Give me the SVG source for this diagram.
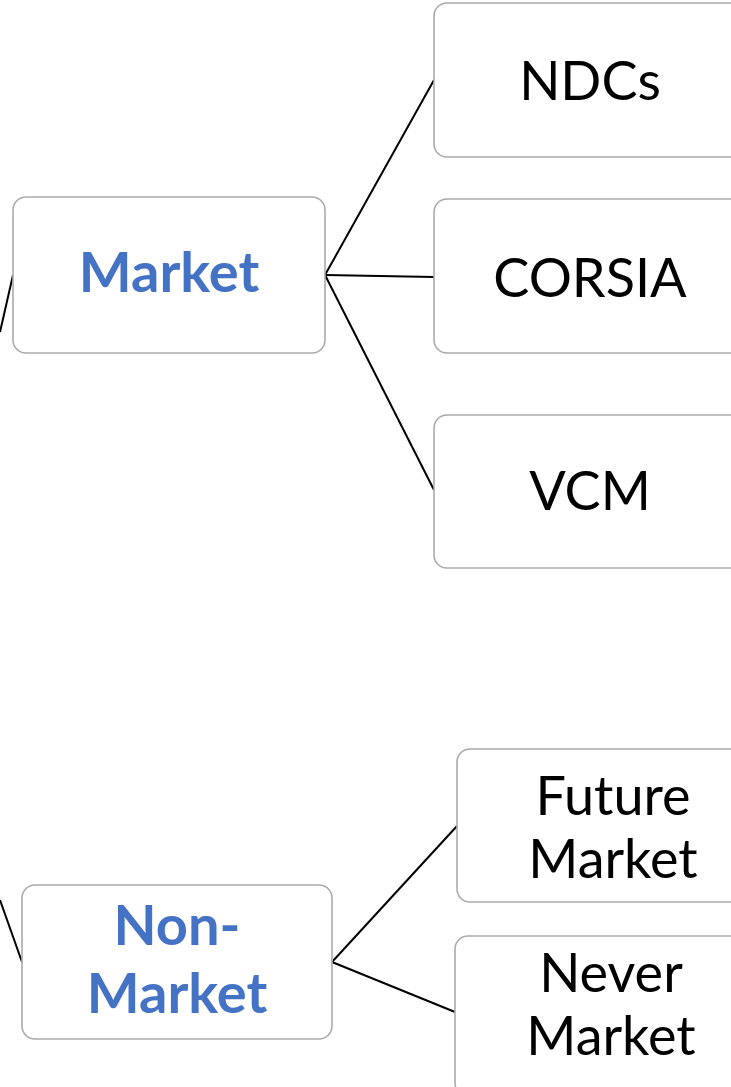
<svg xmlns="http://www.w3.org/2000/svg" width="731" height="1087" viewBox="0 0 731 1087">
  <style>
    .box { fill: #ffffff; stroke: #ababab; stroke-width: 1.6; }
    .link { stroke: #000000; stroke-width: 2; fill: none; }
    .lbl { font-family: Lato, "Open Sans", "Liberation Sans", sans-serif; font-size: 54px; fill: #000000; text-anchor: middle; }
    .hd { font-size: 56px; font-weight: bold; fill: #4472c4; }
  </style>
  <rect width="731" height="1087" fill="#ffffff"/>
  <g id="connectors">
    <line class="link" x1="0" y1="332" x2="13" y2="275"/>
    <line class="link" x1="325" y1="275" x2="434" y2="80"/>
    <line class="link" x1="325" y1="275" x2="434" y2="277"/>
    <line class="link" x1="325" y1="275" x2="434" y2="490"/>
    <line class="link" x1="0" y1="900" x2="22" y2="962"/>
    <line class="link" x1="332" y1="962" x2="457" y2="826"/>
    <line class="link" x1="332" y1="962" x2="455" y2="1012"/>
  </g>
  <g id="market">
    <rect class="box" x="13" y="197" width="312" height="156" rx="13"/>
    <text class="lbl hd" x="169" y="292">Market</text>
  </g>
  <g id="ndcs">
    <rect class="box" x="434" y="3" width="312" height="154" rx="13"/>
    <text class="lbl" x="590" y="100">NDCs</text>
  </g>
  <g id="corsia">
    <rect class="box" x="434" y="199" width="312" height="154" rx="13"/>
    <text class="lbl" x="590" y="297">CORSIA</text>
  </g>
  <g id="vcm">
    <rect class="box" x="434" y="415" width="312" height="153" rx="13"/>
    <text class="lbl" x="590" y="510">VCM</text>
  </g>
  <g id="non-market">
    <rect class="box" x="22" y="885" width="310" height="154" rx="13"/>
    <text class="lbl hd" x="177" y="945">Non-</text>
    <text class="lbl hd" x="177" y="1013">Market</text>
  </g>
  <g id="future-market">
    <rect class="box" x="457" y="749" width="312" height="153" rx="13"/>
    <text class="lbl" x="613" y="815">Future</text>
    <text class="lbl" x="613" y="878">Market</text>
  </g>
  <g id="never-market">
    <rect class="box" x="455" y="936" width="312" height="160" rx="13"/>
    <text class="lbl" x="611" y="992">Never</text>
    <text class="lbl" x="611" y="1055">Market</text>
  </g>
</svg>
